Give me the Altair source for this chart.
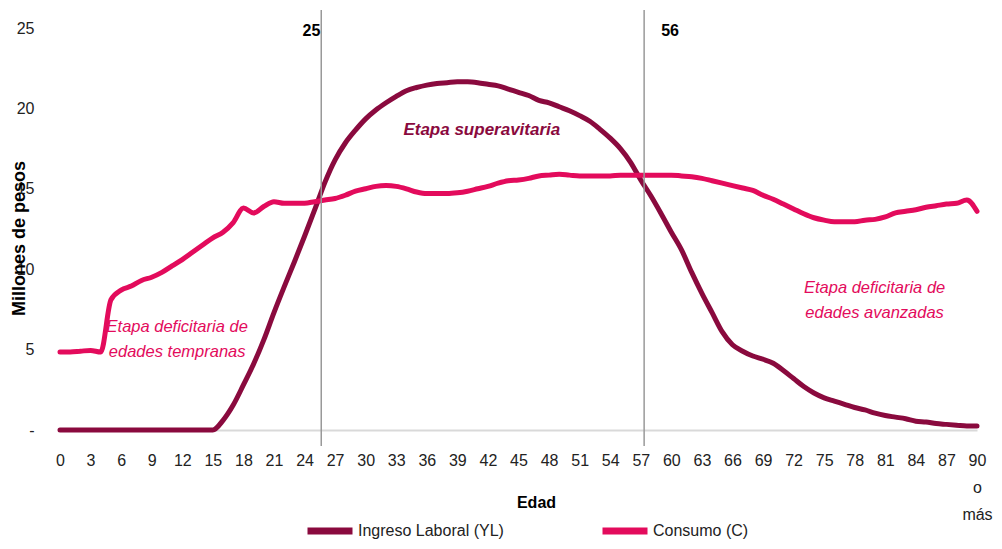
import altair as alt
import pandas as pd

ages = list(range(0, 91))

ingreso = [0]*16 + [
    0.6, 1.55, 2.8, 4.1, 5.6, 7.3, 8.9, 10.45, 12.05,          # 16-24
    13.7, 15.4, 16.8, 17.85, 18.65, 19.35, 19.9, 20.35, 20.75, 21.1,  # 25-34
    21.3, 21.45, 21.55, 21.6, 21.65, 21.65, 21.6, 21.5, 21.4, 21.2,   # 35-44
    21.0, 20.8, 20.5, 20.35, 20.1, 19.85, 19.55, 19.2, 18.7, 18.15,   # 45-54
    17.5, 16.65, 15.55, 14.55, 13.45, 12.3, 11.2, 9.8, 8.5, 7.3,      # 55-64
    6.1, 5.3, 4.9, 4.6, 4.4, 4.15, 3.7, 3.2, 2.7, 2.3,                # 65-74
    2.0, 1.8, 1.6, 1.4, 1.25, 1.05, 0.9, 0.8, 0.7, 0.55,              # 75-84
    0.5, 0.4, 0.35, 0.3, 0.25, 0.25                                   # 85-90
]

consumo = [
    4.85, 4.85, 4.9, 4.95, 4.85, 8.1, 8.7, 8.95, 9.3, 9.5,            # 0-9
    9.8, 10.2, 10.6, 11.05, 11.5, 11.95, 12.3, 12.9, 13.8, 13.5,      # 10-19
    13.9, 14.2, 14.1, 14.1, 14.1, 14.2, 14.3, 14.4, 14.6, 14.85,      # 20-29
    15.0, 15.15, 15.2, 15.15, 15.0, 14.8, 14.7, 14.7, 14.7, 14.75,    # 30-39
    14.85, 15.0, 15.15, 15.35, 15.5, 15.55, 15.65, 15.8, 15.85, 15.9, # 40-49
    15.85, 15.8, 15.8, 15.8, 15.8, 15.85, 15.85, 15.85, 15.85, 15.85, # 50-59
    15.85, 15.8, 15.75, 15.65, 15.5, 15.35, 15.2, 15.05, 14.9, 14.6,  # 60-69
    14.35, 14.05, 13.75, 13.45, 13.2, 13.05, 12.95, 12.95, 12.95, 13.05,  # 70-79
    13.1, 13.25, 13.5, 13.6, 13.7, 13.85, 13.95, 14.05, 14.1, 14.3,   # 80-89
    13.6                                                               # 90
]

series_names = ["Ingreso Laboral (YL)", "Consumo (C)"]
series_colors = ["#8A0A3E", "#E30B5C"]

x_ticks = list(range(0, 91, 3))
y_ticks = [0, 5, 10, 15, 20, 25]

rule_ages = [25.64, 57.33]
rule_labels = ["25", "56"]

FONT = "Liberation Sans, Arial, sans-serif"

df = pd.DataFrame({
    "Edad": ages * 2,
    "Valor": ingreso + consumo,
    "Serie": [series_names[0]] * len(ages) + [series_names[1]] * len(ages),
})

x_scale = alt.Scale(domain=[0, 90], nice=False, zero=False)
y_scale = alt.Scale(domain=[0, 25], nice=False)

x_axis = alt.Axis(values=x_ticks, title="Edad", grid=False, ticks=False,
                  domain=True, domainColor="#D9D9D9", domainWidth=2,
                  labelFont=FONT, labelFontSize=16, labelColor="#222",
                  labelPadding=22, labelLineHeight=27,
                  labelExpr="datum.value == 90 ? ['90', 'o', 'más'] : datum.label",
                  labelOverlap=False, labelFlush=False, labelBound=False,
                  titleFont=FONT, titleFontSize=16, titleFontWeight="bold",
                  titleColor="#000", titleX=476, titleY=72, titleAlign="center",
                  titleBaseline="middle")
y_axis = alt.Axis(values=y_ticks, title="Millones de pesos", grid=False, ticks=False,
                  domain=False, labelFont=FONT, labelFontSize=16, labelColor="#222",
                  labelPadding=26, labelOverlap=False,
                  labelExpr="datum.value == 0 ? '-' : datum.label",
                  titleFont=FONT, titleFontSize=18, titleFontWeight="bold",
                  titleColor="#000", titleX=-41, titleY=210, titleAngle=270,
                  titleAlign="center", titleBaseline="middle")

X = alt.X("Edad:Q", scale=x_scale, axis=x_axis)
Y = alt.Y("Valor:Q", scale=y_scale, axis=y_axis)

lines = alt.Chart(df).mark_line(strokeWidth=5, interpolate="monotone", strokeCap="round").encode(
    x=X, y=Y,
    color=alt.Color("Serie:N", sort=series_names,
                    scale=alt.Scale(domain=series_names, range=series_colors),
                    legend=alt.Legend(title=None, orient="none", direction="horizontal",
                                      legendX=244, legendY=477,
                                      symbolType="stroke", symbolSize=2025,
                                      symbolStrokeWidth=7, labelOffset=2,
                                      columnPadding=84,
                                      labelFont=FONT, labelFontSize=16, labelColor="#222")),
)

rules_df = pd.DataFrame({"Edad": rule_ages})
rules = alt.Chart(rules_df).mark_rule(color="#999999", strokeWidth=1.5).encode(
    x=X,
    y=alt.value(-18),
    y2=alt.value(418),
)

lab_df = pd.DataFrame({
    "Edad": [25.55, 59.0],
    "Valor": [24.8, 24.8],
    "Texto": rule_labels,
})
lab25 = alt.Chart(lab_df.iloc[[0]]).mark_text(
    font=FONT, fontSize=16, fontWeight="bold", color="#000", align="right", baseline="middle"
).encode(x=X, y=Y, text="Texto:N")
lab56 = alt.Chart(lab_df.iloc[[1]]).mark_text(
    font=FONT, fontSize=16, fontWeight="bold", color="#000", align="left", baseline="middle"
).encode(x=X, y=Y, text="Texto:N")

sup_df = pd.DataFrame({"Edad": [41.4], "Valor": [18.65], "Texto": ["Etapa superavitaria"]})
sup = alt.Chart(sup_df).mark_text(
    font=FONT, fontSize=17, fontWeight="bold", fontStyle="italic", color="#8A0A3E",
    align="center", baseline="middle"
).encode(x=X, y=Y, text="Texto:N")

def_df = pd.DataFrame({
    "Edad": [11.5, 11.5, 79.95, 79.95],
    "Valor": [6.4, 4.85, 8.83, 7.28],
    "Texto": ["Etapa deficitaria de", "edades tempranas",
              "Etapa deficitaria de", "edades avanzadas"],
})
defic = alt.Chart(def_df).mark_text(
    font=FONT, fontSize=16.5, fontStyle="italic", color="#E30B5C",
    align="center", baseline="middle"
).encode(x=X, y=Y, text="Texto:N")

chart = alt.layer(lines, rules, lab25, lab56, sup, defic).properties(
    width=917, height=402,
    autosize=alt.AutoSizeParams(type="none"),
    padding={"left": 52, "top": 20, "right": 17, "bottom": 111},
).configure(background="white").configure_view(stroke=None)

chart.save("out.html", embed_options={"renderer": "svg", "actions": False})
